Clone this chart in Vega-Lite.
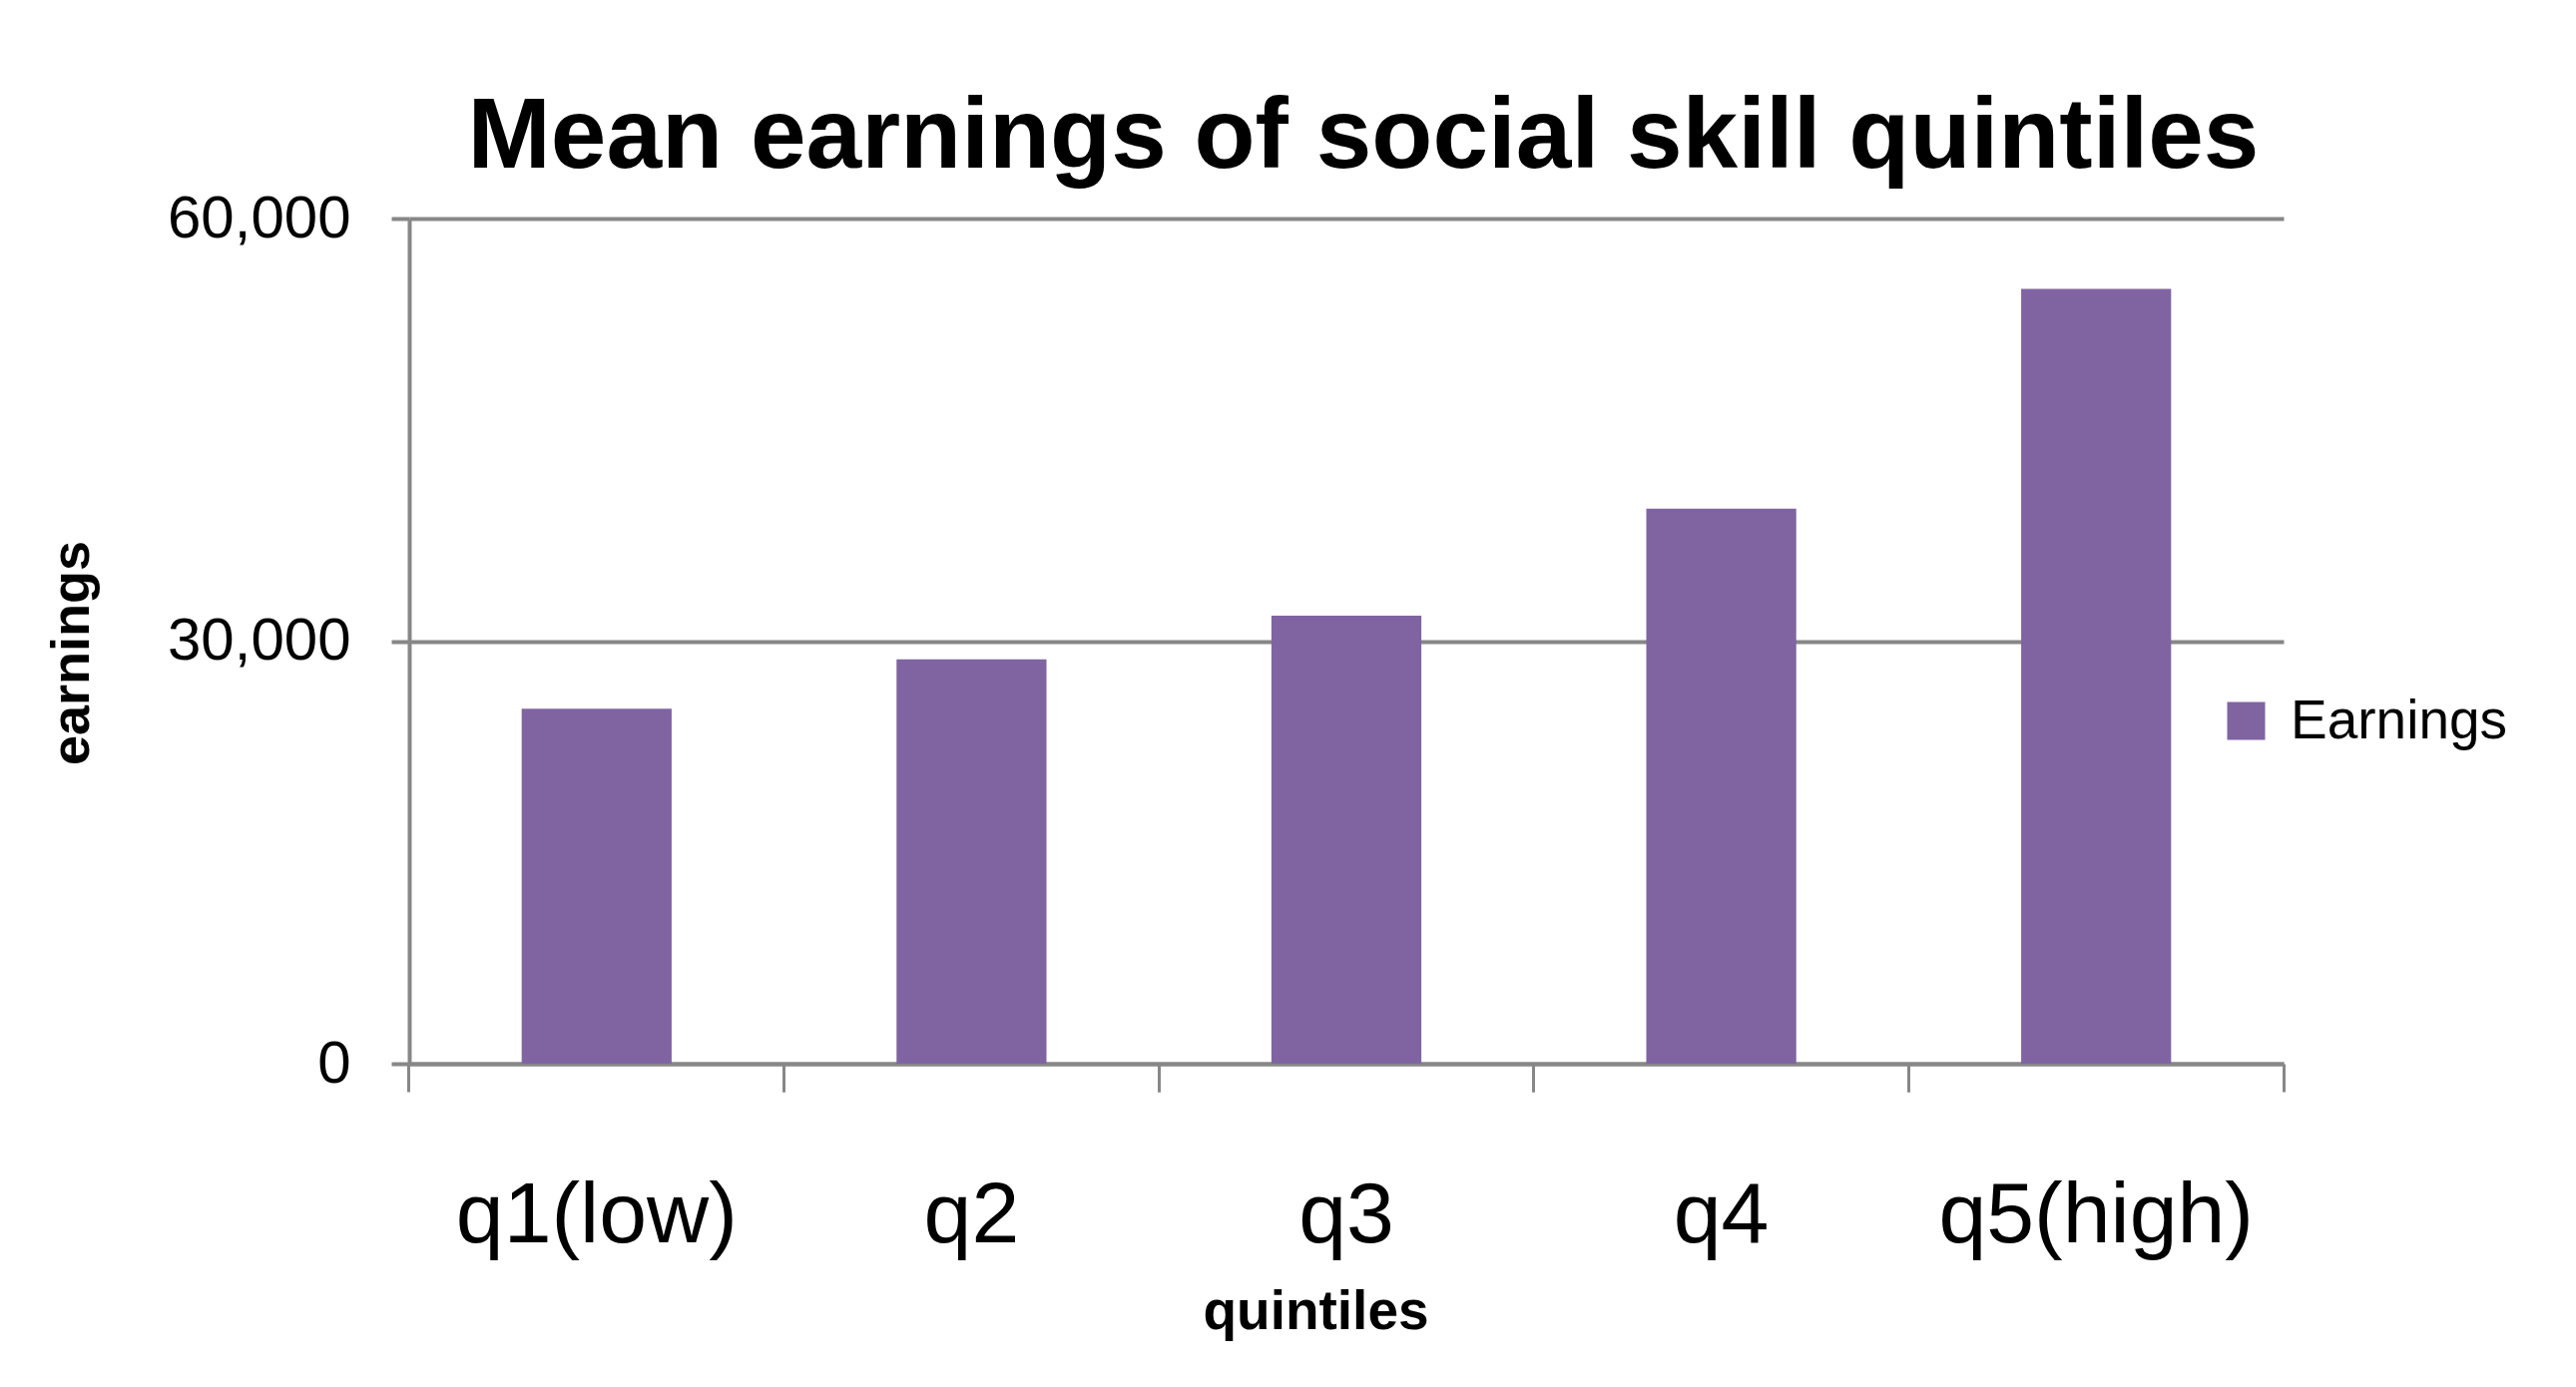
{
  "$schema": "https://vega.github.io/schema/vega-lite/v6.json",
  "width": 1878,
  "height": 847,
  "autosize": {"type": "none"},
  "padding": {"left": 410, "top": 219, "right": 293, "bottom": 324},
  "background": "white",
  "title": {
    "text": "Mean earnings of social skill quintiles",
    "font": "Liberation Sans",
    "fontWeight": "bold",
    "fontSize": 100,
    "color": "black",
    "anchor": "middle",
    "frame": "group",
    "baseline": "alphabetic",
    "offset": -79,
    "dx": 17
  },
  "data": {
    "values": [
      {"quintile": "q1(low)", "earnings": 25200, "series": "Earnings"},
      {"quintile": "q2", "earnings": 28700, "series": "Earnings"},
      {"quintile": "q3", "earnings": 31800, "series": "Earnings"},
      {"quintile": "q4", "earnings": 39400, "series": "Earnings"},
      {"quintile": "q5(high)", "earnings": 55000, "series": "Earnings"}
    ]
  },
  "encoding": {
    "y": {
      "field": "earnings",
      "type": "quantitative",
      "scale": {"domain": [0, 60000], "nice": false},
      "axis": {
        "title": "earnings",
        "values": [0, 30000, 60000],
        "format": ",.0f",
        "grid": true,
        "gridColor": "#878787",
        "gridWidth": 4,
        "domain": true,
        "domainColor": "#878787",
        "domainWidth": 4,
        "ticks": true,
        "tickColor": "#878787",
        "tickWidth": 4,
        "tickSize": 18,
        "labelFont": "Liberation Sans",
        "labelFontSize": 60,
        "labelColor": "black",
        "labelPadding": 41,
        "labelLimit": 0,
        "titleFont": "Liberation Sans",
        "titleFontWeight": "bold",
        "titleFontSize": 54,
        "titleColor": "black",
        "titleBaseline": "alphabetic",
        "titleAngle": 270,
        "titleX": -322,
        "titleY": 435,
        "titleAlign": "center"
      }
    }
  },
  "layer": [
    {
      "mark": {"type": "bar"},
      "encoding": {
        "x": {
          "field": "quintile",
          "type": "nominal",
          "sort": null,
          "scale": {"paddingInner": 0.6, "paddingOuter": 0.3},
          "axis": {
            "orient": "bottom",
            "title": "quintiles",
            "labelAngle": 0,
            "ticks": false,
            "grid": false,
            "domain": true,
            "domainColor": "#878787",
            "domainWidth": 4,
            "labelFont": "Liberation Sans",
            "labelFontSize": 86,
            "labelColor": "black",
            "labelBaseline": "alphabetic",
            "labelPadding": 178,
            "labelLimit": 0,
            "titleFont": "Liberation Sans",
            "titleFontWeight": "bold",
            "titleFontSize": 55,
            "titleColor": "black",
            "titleBaseline": "alphabetic",
            "titleX": 908,
            "titleY": 265,
            "titleAlign": "center"
          }
        },
        "color": {
          "field": "series",
          "type": "nominal",
          "scale": {"range": ["#8064A2"]},
          "legend": {
            "title": null,
            "orient": "none",
            "legendX": 1813,
            "legendY": 476,
            "symbolType": "square",
            "symbolSize": 1444,
            "symbolStrokeWidth": 0,
            "labelFont": "Liberation Sans",
            "labelFontSize": 55,
            "labelColor": "black",
            "labelOffset": 17,
            "labelLimit": 0
          }
        }
      }
    },
    {
      "mark": {"type": "bar", "opacity": 0},
      "encoding": {
        "x": {
          "field": "quintile",
          "type": "nominal",
          "sort": null,
          "axis": {
            "orient": "bottom",
            "title": null,
            "labels": false,
            "domain": false,
            "grid": false,
            "ticks": true,
            "bandPosition": -0.75,
            "tickSize": 28,
            "tickWidth": 3,
            "tickColor": "#878787"
          }
        }
      }
    },
    {
      "mark": {"type": "bar", "opacity": 0},
      "encoding": {
        "x": {
          "field": "quintile",
          "type": "nominal",
          "sort": null,
          "axis": {
            "orient": "bottom",
            "title": null,
            "labels": false,
            "domain": false,
            "grid": false,
            "ticks": true,
            "bandPosition": 1.75,
            "tickSize": 28,
            "tickWidth": 3,
            "tickColor": "#878787"
          }
        }
      }
    }
  ],
  "resolve": {"axis": {"x": "independent"}},
  "config": {"view": {"stroke": null}}
}
